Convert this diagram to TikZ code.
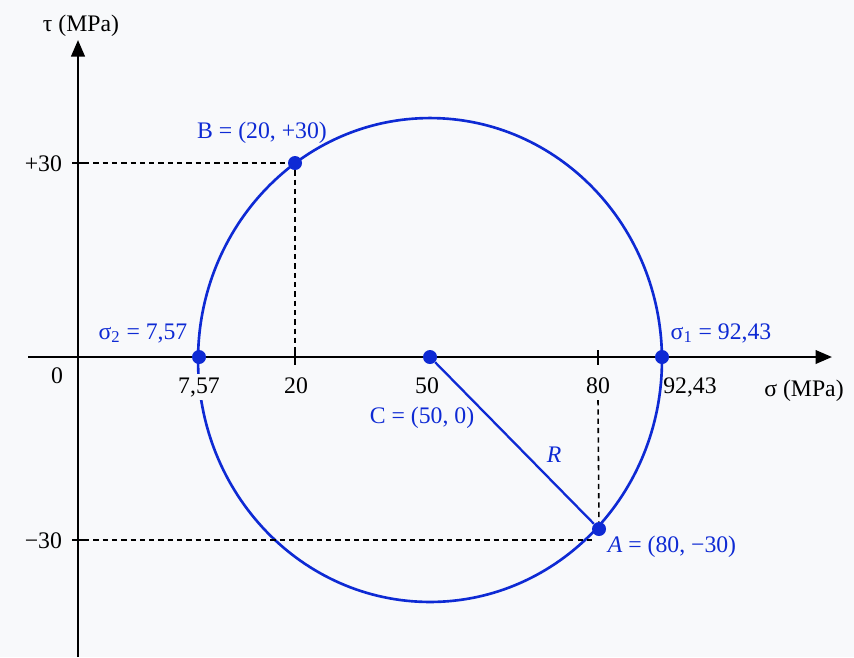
\documentclass[tikz,border=0pt]{standalone}
\usepackage{fontspec}
\setmainfont{Liberation Serif}
\usepackage{xcolor}
\usepackage{tikz}
\usetikzlibrary{arrows.meta,positioning,calc}

\definecolor{mohrblue}{RGB}{14,42,212}
\definecolor{paper}{RGB}{248,249,251}

\begin{document}
\begin{tikzpicture}[
  x=0.02cm, y=-0.02cm,
  font=\fontsize{13.5}{16}\selectfont,
  axis/.style={line width=1.4pt, -{Triangle[length=0.33cm, width=0.27cm]}},
  guide/.style={line width=0.9pt, dash pattern=on 3pt off 2.3pt},
  tickmark/.style={line width=0.9pt},
  pt/.style={circle, fill=mohrblue, inner sep=0pt, minimum size=0.28cm},
  val/.style={anchor=base, inner sep=1pt},
  bluetext/.style={val, text=mohrblue}
]
  \fill[paper] (0,0) rectangle (854,657);
  \useasboundingbox (0,0) rectangle (854,657);

  \coordinate (tauS) at (78,657);
  \coordinate (tauE) at (78,40);
  \coordinate (sigS) at (28,357);
  \coordinate (sigE) at (832,357);
  \coordinate (O) at (78,357);
  \coordinate (tp30) at (84,163);
  \coordinate (tm30) at (84,540);
  \coordinate (s80) at (598,400);

  % Mohr circle
  \draw[mohrblue, line width=1.5pt] (430,360) ellipse [x radius=4.64cm, y radius=4.84cm];

  % axes and ticks
  \draw[axis] (tauS) -- (tauE);
  \draw[axis] (sigS) -- (sigE);
  \draw[tickmark] (72,163) -- (84,163);
  \draw[tickmark] (72,540) -- (84,540);
  \draw[tickmark] (295,350) -- (295,365);
  \draw[tickmark] (598,350) -- (598,365);

  \node[pt] (C) at (430,357) {};
  \node[pt] (S2) at (199,357) {};
  \node[pt] (S1) at (662,357) {};
  \node[pt] (B) at (295,163) {};
  \node[pt] (A) at (599,529) {};

  \draw[guide] (tp30) -- (B);
  \draw[guide] (B) -- (B |- O);
  \draw[guide] (s80) -- (A);
  \draw[guide] (tm30) -- (tm30 -| A.west);
  \draw[mohrblue, line width=1.3pt] (C) -- (A);

  \node[val] (taulab) at (81,31) {τ (MPa)};
  \node[val] (siglab) at (804,396) {σ (MPa)};
  \node[val] (zero) at (57,383) {0};
  \node[val, anchor=base east] (lp30) at (64,171) {+30};
  \node[val, anchor=base east] (lm30) at (64,548) {−30};
  \node[val, fill=paper, inner sep=2pt] (l757) at (199,393) {7,57};
  \node[val] (l20) at (296,393) {20};
  \node[val] (l50) at (427,393) {50};
  \node[val] (l80) at (598,393) {80};
  \node[val] (l9243) at (690,393) {92,43};

  % point labels
  \node[bluetext] (Blab) at (262,138) {B = (20, +30)};
  \node[bluetext] (S2lab) at (143,339) {σ\textsubscript{2} = 7,57};
  \node[bluetext] (S1lab) at (721,339) {σ\textsubscript{1} = 92,43};
  \node[bluetext] (Clab) at (422,423) {C = (50, 0)};
  \node[bluetext] (Rlab) at (554,462) {\textit{R}};
  \node[bluetext] (Alab) at (672,552) {\textit{A} = (80, −30)};
\end{tikzpicture}
\end{document}
